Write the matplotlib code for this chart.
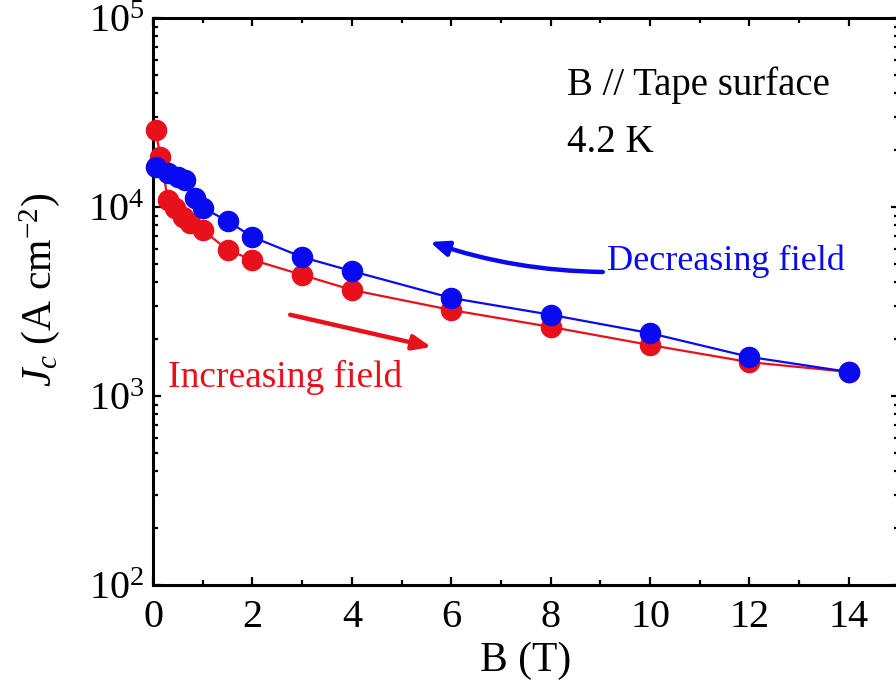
import numpy as np
import matplotlib
matplotlib.use("Agg")
from matplotlib import pyplot as plt
from matplotlib.ticker import MultipleLocator, LogLocator, LogFormatterMathtext, NullFormatter

plt.rcParams['font.family'] = ['Liberation Serif', 'DejaVu Serif']
plt.rcParams['mathtext.fontset'] = 'custom'
plt.rcParams['mathtext.rm'] = 'Liberation Serif'
plt.rcParams['mathtext.it'] = 'Liberation Serif:italic'

# increasing field (red)
b_inc = [0.05, 0.15, 0.3, 0.45, 0.6, 0.75, 1.0, 1.5, 2, 3, 4, 6, 8, 10, 12, 14]
jc_inc = [25500, 18400, 10900, 9900, 8850, 8230, 7560, 5920, 5250, 4370, 3640,
          2850, 2320, 1860, 1510, 1340]

# decreasing field (blue)
b_dec = [0.05, 0.3, 0.5, 0.65, 0.85, 1.0, 1.5, 2, 3, 4, 6, 8, 10, 12, 14]
jc_dec = [16300, 15100, 14400, 13900, 11200, 9900, 8430, 6940, 5430, 4580,
          3300, 2690, 2150, 1610, 1340]

fig = plt.figure(figsize=(8.96, 6.94), dpi=100)
ax = fig.add_axes([0.1708, 0.1571, 0.832, 0.817])

ax.plot(b_inc, jc_inc, '-o', color='#e8101a', lw=1.6, ms=14.5, clip_on=False, zorder=3)
ax.plot(b_dec, jc_dec, '-o', color='#0a0af0', lw=1.6, ms=14.5, clip_on=False, zorder=4)

ax.set_yscale('log')
ax.set_xlim(0, 15)
ax.set_ylim(1e2, 1e5)

ax.xaxis.set_major_locator(MultipleLocator(2))
ax.xaxis.set_minor_locator(MultipleLocator(1))
ax.yaxis.set_major_locator(LogLocator(base=10))
ax.yaxis.set_major_formatter(LogFormatterMathtext())
ax.yaxis.set_minor_locator(LogLocator(base=10, subs=np.arange(2, 10)))
ax.yaxis.set_minor_formatter(NullFormatter())

ax.tick_params(which='both', direction='in', top=True, right=True, width=1.6)
ax.tick_params(which='major', length=6, labelsize=29, pad=6)
ax.tick_params(axis='x', which='major', pad=10)
ax.tick_params(which='minor', length=3.5)
for s in ax.spines.values():
    s.set_linewidth(2.2)

ax.set_xlabel('B (T)', fontsize=30, labelpad=4)
ax.set_ylabel(r'$J_c$ (A cm$^{-2}$)', fontsize=30)
ax.yaxis.set_label_coords(-0.122, 0.52)

ax.text(0.555, 0.864, 'B // Tape surface', transform=ax.transAxes, fontsize=28)
ax.text(0.555, 0.764, '4.2 K', transform=ax.transAxes, fontsize=28)
ax.text(0.609, 0.556, 'Decreasing field', transform=ax.transAxes, fontsize=26, color='#0a0af0')
ax.text(0.020, 0.349, 'Increasing field', transform=ax.transAxes, fontsize=27, color='#e8101a')

ax.annotate('', xy=(5.57, 6530), xytext=(9.05, 4530),
            arrowprops=dict(arrowstyle='-|>,head_length=1.1,head_width=0.45',
                            color='#0a0af0', lw=3.2,
                            connectionstyle='arc3,rad=-0.08', shrinkA=0, shrinkB=0))
ax.annotate('', xy=(5.6, 1815), xytext=(2.76, 2690),
            arrowprops=dict(arrowstyle='-|>,head_length=1.1,head_width=0.45',
                            color='#e8101a', lw=3.2, shrinkA=0, shrinkB=0))

fig.savefig('out.png', dpi=100)
